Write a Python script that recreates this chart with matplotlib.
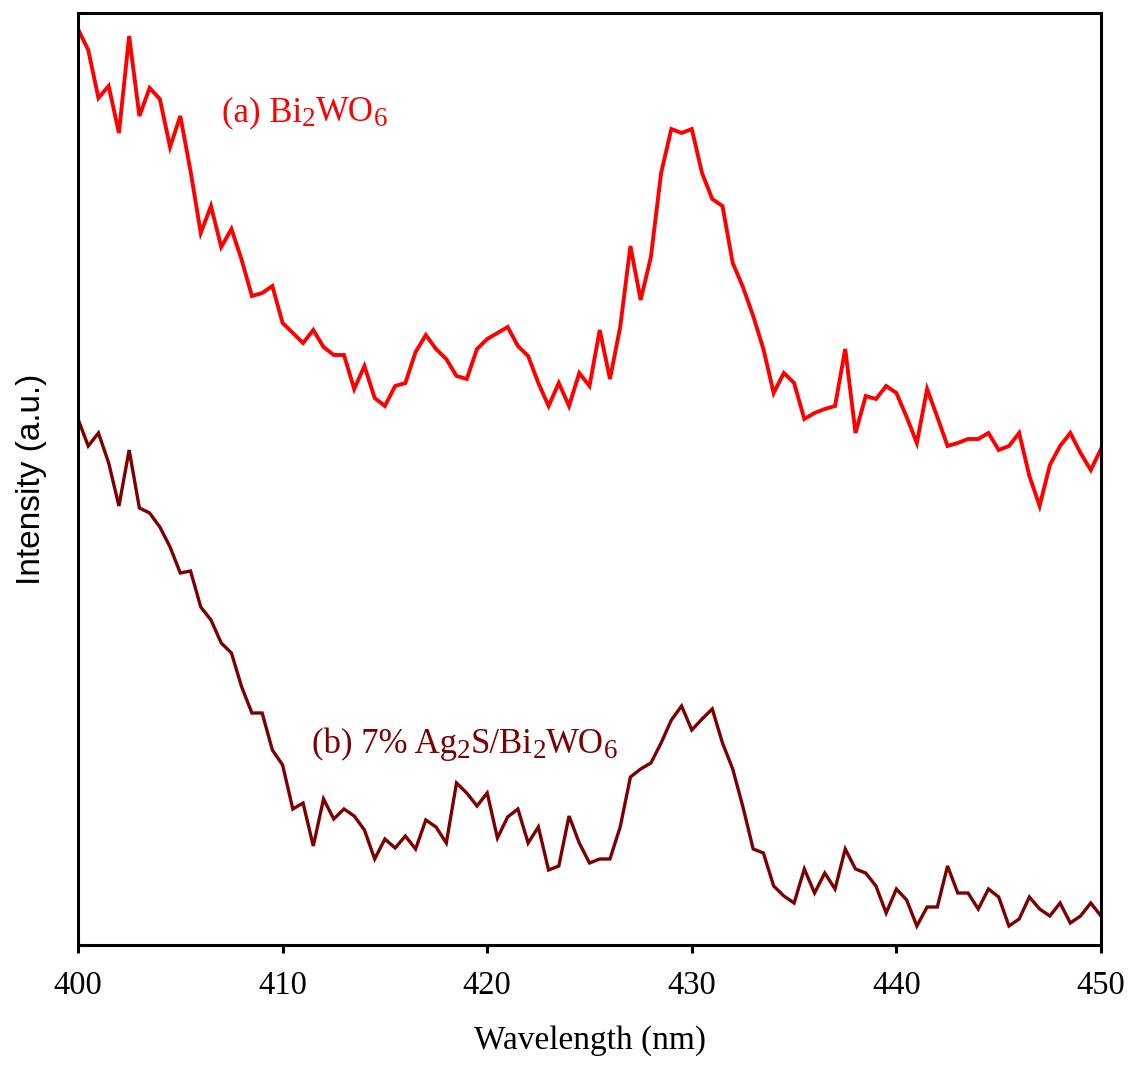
import matplotlib
matplotlib.use("Agg")
import matplotlib.pyplot as plt
import matplotlib.transforms as mtransforms
import numpy as np

# ---------------- data ----------------
wavelength = np.arange(400.0, 450.01, 0.5)

# (a) Bi2WO6  (arbitrary intensity units)
pix_a = [29, 50, 98, 86, 133, 36, 116, 88, 99, 147,
         116, 171, 233, 206, 247, 229, 260, 296, 293, 286,
         323, 333, 343, 330, 347, 355, 355, 389, 366, 398,
         406, 386, 383, 352, 335, 349, 359, 376, 379, 349,
         339, 333, 327, 346, 356, 383, 406, 383, 406, 373,
         386, 330, 379, 327, 246, 300, 257, 173, 129, 133,
         129, 173, 199, 206, 263, 287, 316, 349, 393, 373,
         383, 419, 413, 409, 406, 349, 433, 396, 399, 386,
         393, 417, 443, 389, 417, 446, 443, 439, 439, 433,
         450, 446, 433, 476, 506, 465, 446, 433, 453, 470,
         449]
# (b) 7% Ag2S/Bi2WO6
pix_b = [419, 446, 433, 463, 506, 450, 508, 513, 527, 547,
         573, 571, 607, 620, 643, 653, 687, 713, 713, 750,
         765, 809, 803, 846, 799, 819, 809, 816, 830, 859,
         839, 848, 836, 849, 820, 827, 843, 783, 793, 806,
         793, 838, 817, 809, 843, 827, 870, 866, 816, 843,
         863, 859, 859, 827, 777, 769, 763, 743, 720, 706,
         730, 719, 709, 743, 769, 807, 849, 853, 886, 896,
         903, 869, 893, 873, 889, 849, 869, 873, 886, 913,
         889, 900, 926, 907, 907, 866, 893, 893, 909, 889,
         897, 926, 919, 897, 909, 916, 903, 923, 916, 903,
         916]
intensity_a = 945 - np.array(pix_a, dtype=float)
intensity_b = 945 - np.array(pix_b, dtype=float)

xticks = [400, 410, 420, 430, 440, 450]

# ---------------- figure ----------------
W, H = 1132, 1065
fig = plt.figure(figsize=(W / 100, H / 100), dpi=100)
ax = fig.add_axes([78 / W, (H - 945) / H, (1101 - 78) / W, (945 - 13) / H])

ax.plot(wavelength, intensity_a, color="#ff0000", lw=2.8, solid_joinstyle="miter")
ax.plot(wavelength, intensity_b, color="#7d0000", lw=2.4, solid_joinstyle="miter")

ax.set_xlim(400, 450)
ax.set_ylim(0, 932)

for sp in ax.spines.values():
    sp.set_linewidth(2.2)
    sp.set_color("black")

ax.set_xticks(xticks)
ax.set_xticklabels([str(t) for t in xticks], fontfamily="Liberation Serif", fontsize=23.5)
ax.tick_params(axis="x", direction="out", length=5.5, width=2.2, pad=13, top=False)
ax.set_yticks([])

ax.set_xlabel("Wavelength (nm)", fontfamily="Liberation Serif", fontsize=24)
ax.xaxis.set_label_coords(0.5, (945 - 1049) / 932)
ax.xaxis.label.set_va("baseline")

ax.set_ylabel("Intensity (a.u.)", fontfamily="Liberation Sans", fontsize=24)
ax.yaxis.set_label_coords((32 - 78) / 1023, 0.5)
ax.yaxis.label.set_va("center")


def rich_label(x, y, parts, color, size=25, subsize=19.5, drop_px=5.5):
    fig.canvas.draw()
    renderer = fig.canvas.get_renderer()
    X, Y = ax.transData.transform((x, y))
    for txt, sub in parts:
        t = ax.text(X, Y - (drop_px if sub else 0), txt,
                    transform=mtransforms.IdentityTransform(),
                    fontfamily="Liberation Serif",
                    fontsize=subsize if sub else size,
                    color=color, ha="left", va="baseline")
        X = t.get_window_extent(renderer).x1


rich_label(400 + (222 - 78) / 20.46, 945 - 121,
           [("(a) Bi", False), ("2", True), ("WO", False), ("6", True)],
           "#ff0000")
rich_label(400 + (312 - 78) / 20.46, 945 - 753,
           [("(b) 7% Ag", False), ("2", True), ("S/Bi", False), ("2", True),
            ("WO", False), ("6", True)],
           "#7d0000")

fig.savefig("out.png", dpi=100)
